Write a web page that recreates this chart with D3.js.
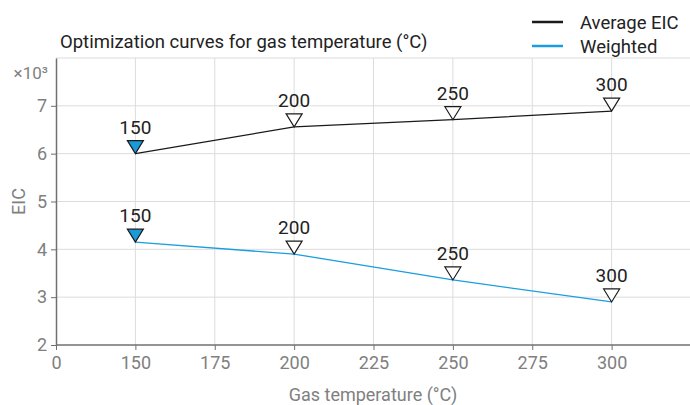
<!DOCTYPE html>
<html>
<head>
<meta charset="utf-8">
<script src="https://cdn.jsdelivr.net/npm/d3@7"></script>
<style>
  body { margin: 0; background: #fff; }
  svg { font-family: Roboto, "Noto Sans", sans-serif; }
</style>
</head>
<body>
<svg id="chart" width="690" height="405"></svg>
<script>
// data (EIC in thousands)
const temps = [150, 200, 250, 300];
const averageEIC = [6.0, 6.56, 6.71, 6.89];
const weighted = [4.15, 3.9, 3.36, 2.9];
const xTicks = [125, 150, 175, 200, 225, 250, 275, 300];
const xTickLabels = ["0", "150", "175", "200", "225", "250", "275", "300"];
const yTicks = [2, 3, 4, 5, 6, 7];
const bestTemp = 150;

const series = [
  {name: "Average EIC", values: averageEIC, color: "#1a1a1a"},
  {name: "Weighted", values: weighted, color: "#1a9ee0"}
];

const svg = d3.select("#chart");
const mLeft = 56, mRight = 691, mTop = 58, mBottom = 345;

const x = d3.scaleLinear().domain([125, 325]).range([mLeft, mRight]);
const y = d3.scaleLinear().domain([2, 8]).range([mBottom, mTop]);

// grid
svg.append("g")
  .selectAll("line")
  .data(xTicks.slice(1))
  .join("line")
  .attr("x1", d => x(d)).attr("x2", d => x(d))
  .attr("y1", mTop).attr("y2", mBottom)
  .attr("stroke", "#dcdcdc").attr("stroke-width", 1);

svg.append("g")
  .selectAll("line")
  .data(yTicks.slice(1).concat([8]))
  .join("line")
  .attr("x1", mLeft).attr("x2", 690)
  .attr("y1", d => y(d)).attr("y2", d => y(d))
  .attr("stroke", "#dcdcdc").attr("stroke-width", 1);

// axes
const xAxis = svg.append("g")
  .attr("transform", `translate(0,${mBottom})`)
  .call(d3.axisBottom(x).tickValues(xTicks).tickFormat((d, i) => xTickLabels[i]).tickSize(5).tickSizeOuter(0));
const yAxis = svg.append("g")
  .attr("transform", `translate(${mLeft},0)`)
  .call(d3.axisLeft(y).tickValues(yTicks).tickFormat(d3.format("d")).tickSize(5).tickSizeOuter(0));

[xAxis, yAxis].forEach(a => {
  a.select(".domain").attr("stroke", "#707070").attr("stroke-width", 1.5);
  a.selectAll(".tick line").attr("stroke", "#707070");
  a.selectAll(".tick text")
    .attr("fill", "#808080")
    .style("font-size", "18px")
    .style("font-family", "Roboto, sans-serif");
});
xAxis.select(".domain").attr("d", `M${mLeft},0H690`);
xAxis.selectAll(".tick text").attr("dy", "0.9em");
yAxis.selectAll(".tick text").attr("dx", "-1px");

svg.append("text")
  .attr("x", 48).attr("y", 79)
  .attr("text-anchor", "end")
  .attr("fill", "#808080")
  .style("font-size", "17px")
  .text("×10³");

svg.append("text")
  .attr("transform", `translate(25,${(mTop + mBottom) / 2}) rotate(-90)`)
  .attr("text-anchor", "middle")
  .attr("fill", "#808080")
  .style("font-size", "18px")
  .text("EIC");

svg.append("text")
  .attr("x", 373).attr("y", 401)
  .attr("text-anchor", "middle")
  .attr("fill", "#808080")
  .style("font-size", "18px")
  .text("Gas temperature (°C)");

// title
svg.append("text")
  .attr("x", 60).attr("y", 48)
  .attr("fill", "#222")
  .style("font-size", "18.5px")
  .text("Optimization curves for gas temperature (°C)");

// legend
const legend = svg.append("g");
series.forEach((s, i) => {
  const ly = 22 + i * 24;
  legend.append("line")
    .attr("x1", 532).attr("x2", 563)
    .attr("y1", ly).attr("y2", ly)
    .attr("stroke", s.color).attr("stroke-width", 2.5);
  legend.append("text")
    .attr("x", 580).attr("y", ly + 7)
    .attr("fill", "#222")
    .style("font-size", "18.5px")
    .text(s.name);
});

// lines, markers, labels
const line = d3.line().x(d => x(d.t)).y(d => y(d.v));
const tri = "M-8,-13L8,-13L0,0Z";

series.forEach(s => {
  const pts = temps.map((t, i) => ({t: t, v: s.values[i]}));
  svg.append("path")
    .datum(pts)
    .attr("d", line)
    .attr("fill", "none")
    .attr("stroke", s.color)
    .attr("stroke-width", 1.3);

  const g = svg.append("g")
    .selectAll("g")
    .data(pts)
    .join("g")
    .attr("transform", d => `translate(${x(d.t)},${y(d.v)})`);

  g.append("path")
    .attr("d", tri)
    .attr("fill", d => d.t === bestTemp ? "#1a9ad8" : "#fff")
    .attr("stroke", "#1a1a1a")
    .attr("stroke-width", 1.2);

  g.append("text")
    .attr("y", -20)
    .attr("text-anchor", "middle")
    .attr("fill", "#222")
    .style("font-size", "19px")
    .text(d => d.t);
});
</script>
</body>
</html>
